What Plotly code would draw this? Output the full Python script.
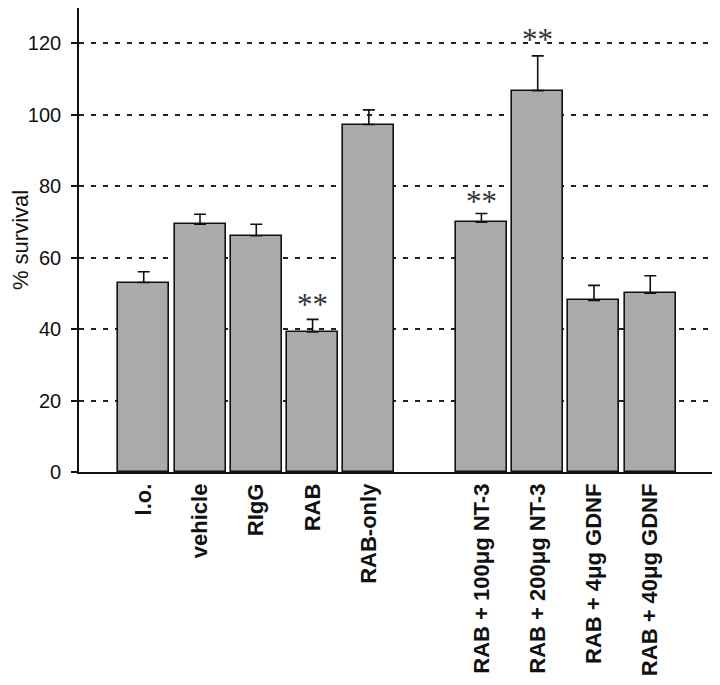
import plotly.graph_objects as go

# groups (a blank slot sits between RAB-only and the NT-3 groups)
categories = ["l.o.", "vehicle", "RIgG", "RAB", "RAB-only",
              "RAB + 100μg NT-3", "RAB + 200μg NT-3", "RAB + 4μg GDNF", "RAB + 40μg GDNF"]
survival = [53, 69.3, 66.1, 39.2, 97.2, 69.9, 106.7, 48.0, 50.0]
sem = [3.0, 2.8, 3.2, 3.5, 4.1, 2.4, 9.7, 4.2, 4.9]
stars = ["", "", "", "**", "", "**", "**", "", ""]
star_y = [None, None, None, 48.8, None, 77.5, 123, None, None]

x_pos = [0, 1, 2, 3, 4, 6, 7, 8, 9]

fig = go.Figure()
fig.add_trace(go.Bar(
    x=x_pos, y=survival, width=0.906,
    marker=dict(color="#aaaaaa", line=dict(color="#111111", width=1.6)),
    error_y=dict(type="data", symmetric=False, array=sem,
                 arrayminus=[0] * len(sem),
                 color="#111111", thickness=1.6, width=6),
    showlegend=False,
))

for xp, s, sy in zip(x_pos, stars, star_y):
    if s:
        fig.add_annotation(x=xp, y=sy, text=s, showarrow=False,
                           font=dict(family="Liberation Serif", size=31, color="#333333"),
                           yanchor="middle", yshift=-7)

# page body has an 8px margin, so the figure is a bit smaller than the window
fig.update_layout(
    width=712, height=677,
    margin=dict(l=71, r=5, t=0, b=213),
    plot_bgcolor="white", paper_bgcolor="white",
    bargap=0,
    font=dict(family="Liberation Sans", color="#111111"),
)
fig.update_xaxes(
    range=[-1.15, 10.15],
    tickmode="array", tickvals=x_pos,
    ticktext=[f"<b>{c}</b>" for c in categories],
    tickangle=-90, tickfont=dict(size=22, color="#111111"),
    showgrid=False, ticks="", ticklabelstandoff=1,
    showline=True, linecolor="#111111", linewidth=1.6, mirror=True,
    zeroline=False, automargin=False,
)
fig.update_yaxes(
    range=[0, 129.8],
    tickvals=[0, 20, 40, 60, 80, 100, 120],
    tickfont=dict(size=20, color="#111111"),
    ticks="outside", ticklen=6, tickwidth=1.6, tickcolor="#111111",
    ticklabelstandoff=6,
    showgrid=True, gridcolor="#222222", gridwidth=2, griddash="5px,7px",
    showline=True, linecolor="#111111", linewidth=1.6, mirror=True,
    zeroline=False, automargin=False,
    title=dict(text="% survival", font=dict(size=22, color="#111111"), standoff=12),
)

fig.write_html("out.html")
